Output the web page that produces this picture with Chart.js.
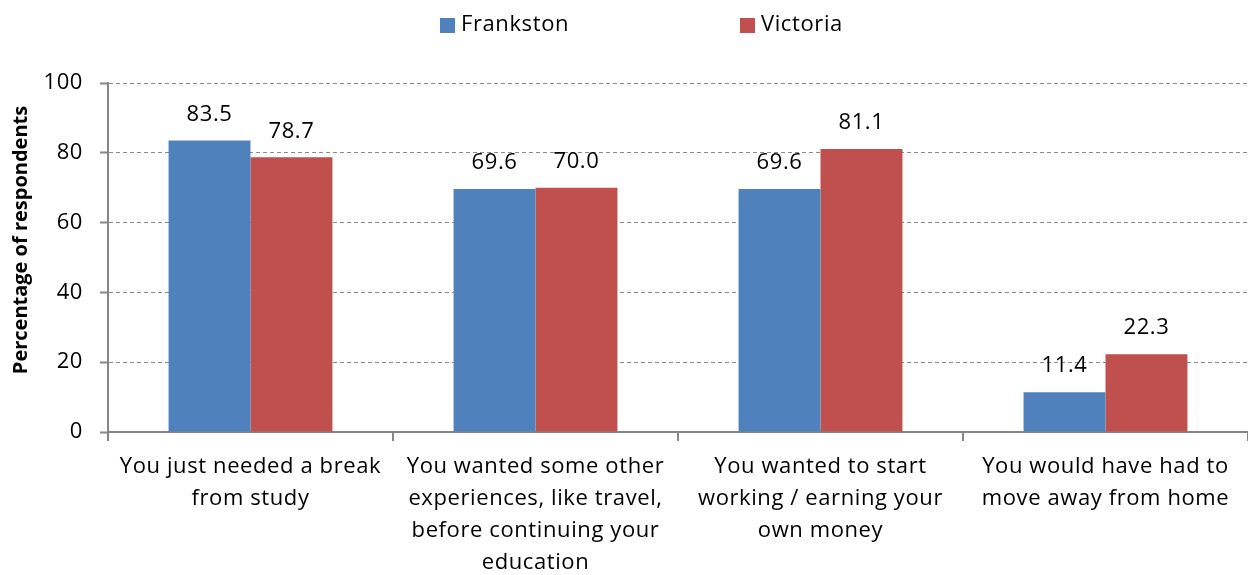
<!DOCTYPE html>
<html><head><meta charset="utf-8">
<script src="https://cdn.jsdelivr.net/npm/chart.js@4.4.0/dist/chart.umd.min.js"></script>
<style>html,body{margin:0;padding:0;background:#fff}#wrap{width:1248px;height:575px}</style>
</head><body><div id="wrap"><canvas id="c" width="1248" height="575"></canvas></div>
<script>
const categories = [
  ["You just needed a break", "from study"],
  ["You wanted some other", "experiences, like travel,", "before continuing your", "education"],
  ["You wanted to start", "working / earning your", "own money"],
  ["You would have had to", "move away from home"]
];
const seriesNames = ["Frankston", "Victoria"];
const frankston = [83.5, 69.6, 69.6, 11.4];
const victoria = [78.7, 70.0, 81.1, 22.3];
const yTicks = [0, 20, 40, 60, 80, 100];
const yTitle = "Percentage of respondents";

const FONT = "'Open Sans', 'Liberation Sans', Arial, sans-serif";
const LS = '0.6px';
const colors = ['#4F81BD', '#C0504D'];

const spacingPlugin = {
  id: 'spacing',
  beforeInit(c){ c.ctx.letterSpacing = LS; },
  beforeLayout(c){ c.ctx.letterSpacing = LS; },
  beforeDraw(c){ c.ctx.letterSpacing = LS; }
};

const valueLabels = {
  id: 'valueLabels',
  afterDatasetsDraw(c){
    const ctx = c.ctx;
    ctx.save();
    ctx.letterSpacing = LS;
    ctx.font = '22px ' + FONT;
    ctx.fillStyle = '#000';
    ctx.textAlign = 'center';
    ctx.textBaseline = 'middle';
    c.data.datasets.forEach((ds, i) => {
      c.getDatasetMeta(i).data.forEach((bar, j) => {
        ctx.fillText(ds.data[j].toFixed(1), bar.x, bar.y - 26);
      });
    });
    ctx.restore();
  }
};

const customLegend = {
  id: 'customLegend',
  afterDraw(c){
    const ctx = c.ctx;
    ctx.save();
    ctx.letterSpacing = LS;
    ctx.font = '22px ' + FONT;
    ctx.textBaseline = 'middle';
    ctx.textAlign = 'left';
    const xs = [440, 740];
    c.data.datasets.forEach((ds, i) => {
      ctx.fillStyle = ds.backgroundColor;
      ctx.fillRect(xs[i], 18, 15, 15);
      ctx.fillStyle = '#000';
      ctx.fillText(ds.label, xs[i] + 21, 25);
    });
    ctx.restore();
  }
};

const yTitlePlugin = {
  id: 'yTitle',
  afterDraw(c){
    const ctx = c.ctx;
    ctx.save();
    ctx.letterSpacing = '0px';
    ctx.font = 'bold 20px ' + FONT;
    ctx.fillStyle = '#000';
    ctx.textAlign = 'center';
    ctx.textBaseline = 'middle';
    ctx.translate(21, 240);
    ctx.rotate(-Math.PI / 2);
    ctx.fillText(yTitle, 0, 0);
    ctx.restore();
  }
};

new Chart(document.getElementById('c'), {
  type: 'bar',
  data: {
    labels: categories,
    datasets: [
      { label: seriesNames[0], data: frankston, backgroundColor: colors[0] },
      { label: seriesNames[1], data: victoria, backgroundColor: colors[1] }
    ]
  },
  options: {
    responsive: false,
    animation: false,
    devicePixelRatio: 1,
    categoryPercentage: 0.575,
    barPercentage: 1.0,
    layout: { padding: { top: 83, right: 0, left: 8, bottom: 0 } },
    plugins: { legend: { display: false }, tooltip: { enabled: false } },
    scales: {
      x: {
        grid: { offset: true, drawOnChartArea: false, tickLength: 9, color: '#868686', lineWidth: 2 },
        border: { color: '#868686', width: 2 },
        ticks: { color: '#000', font: { family: FONT, size: 22, lineHeight: '32px' }, padding: 10, maxRotation: 0, autoSkip: false },
        afterFit(s){ s.height = 575 - 432; }
      },
      y: {
        min: 0, max: 100,
        afterBuildTicks(s){ s.ticks = yTicks.map(v => ({ value: v })); },
        grid: { color: '#8c8c8c', lineWidth: 1, tickLength: 8, tickColor: '#868686', tickWidth: 2 },
        border: { color: '#868686', width: 2, dash: [4, 3] },
        ticks: { color: '#000', font: { family: FONT, size: 22 }, padding: 17 },
        title: { display: false },
        afterFit(s){ s.width = 100; }
      }
    }
  },
  plugins: [spacingPlugin, valueLabels, customLegend, yTitlePlugin]
});
</script></body></html>
